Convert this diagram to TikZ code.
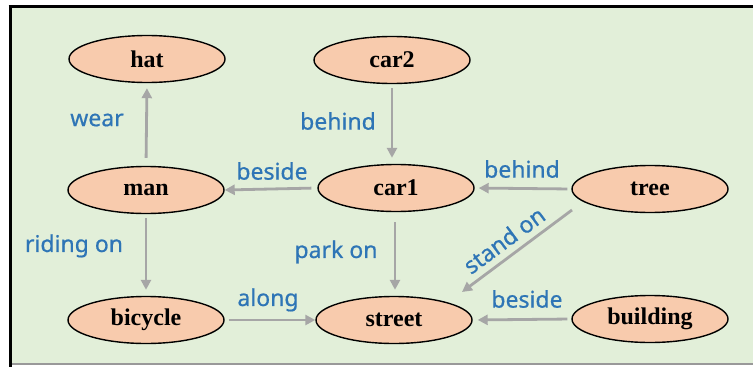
\documentclass[tikz,border=0pt]{standalone}
\usepackage{fontspec}
\setmainfont{Liberation Serif}
\newfontfamily\lblfont[FakeBold=0.6]{Noto Sans}
\usetikzlibrary{shapes.geometric,arrows.meta}
\definecolor{bggreen}{HTML}{E2EFD9}
\definecolor{peach}{HTML}{F8CBAD}
\definecolor{lblblue}{HTML}{2E75B6}
\definecolor{arrgray}{HTML}{A6A6A6}
\tikzset{
  obj/.style={ellipse, draw=black, line width=1.4pt, fill=peach, minimum width=156pt, minimum height=47pt, inner sep=0pt, font=\fontsize{24}{26}\selectfont\bfseries},
  rel/.style={text=lblblue, font=\lblfont\fontsize{23}{25}\selectfont, inner sep=0pt},
  conn/.style={draw=arrgray, line width=2.8pt, -{Triangle[length=10pt,width=10pt]}},
}
\begin{document}
\begin{tikzpicture}[x=1pt,y=-1pt]
\useasboundingbox (0,0) rectangle (753,367);
\fill[white] (0,0) rectangle (753,367);
\fill[bggreen] (10,6) rectangle (753,364);
\draw[black, line width=3pt] (8.5,6.5) -- (753,6.5);
\draw[black, line width=3pt] (10.5,5) -- (10.5,367);
\draw[gray!80, line width=2pt] (12,364) -- (753,364);

\node[obj] (hat) at (147,59) {hat};
\node[obj] (car2) at (392,60) {car2};
\node[obj] (man) at (146,190) {man};
\node[obj] (car1) at (396,188) {car1};
\node[obj] (tree) at (650,189) {tree};
\node[obj] (bicycle) at (146,320) {bicycle};
\node[obj] (street) at (394,320) {street};
\node[obj] (building) at (650,319) {building};

\draw[conn, shorten <=8pt, shorten >=5pt] (man.north) -- (hat.south);
\draw[conn, shorten <=4pt, shorten >=6pt] (car2.south) -- (car2.south |- car1.north);
\draw[conn, shorten <=6pt, shorten >=0pt] (car1.west) -- (man.east);
\draw[conn, shorten <=4pt, shorten >=4pt] (tree.west) -- (car1.east);
\draw[conn, shorten <=4pt, shorten >=6pt] (man.south) -- (bicycle.south |- bicycle.north);
\draw[conn, shorten <=10pt, shorten >=6pt] ([xshift=-1pt]car1.south) -- ([xshift=-1pt]street.north -| car1.south);
\draw[conn, shorten <=4pt, shorten >=0pt] (bicycle.east) -- (street.west);
\draw[conn, shorten <=4pt, shorten >=5pt] (building.west) -- (street.east);
\draw[conn] ([xshift=-78pt,yshift=-21pt]tree.center) -- ([xshift=68pt,yshift=28pt]street.center);

\node[rel] (lwear) at (97,120) {wear};
\node[rel] (lbehind1) at (338,121) {behind};
\node[rel] (lbeside1) at (272,171) {beside};
\node[rel] (lbehind2) at (522,169) {behind};
\node[rel] (lriding) at (74,246) {riding on};
\node[rel] (lpark) at (336,252) {park on};
\node[rel, rotate=36.5] (lstand) at (504,240) {stand on};
\node[rel] (lalong) at (268,300) {along};
\node[rel] (lbeside2) at (527,299) {beside};
\end{tikzpicture}
\end{document}
